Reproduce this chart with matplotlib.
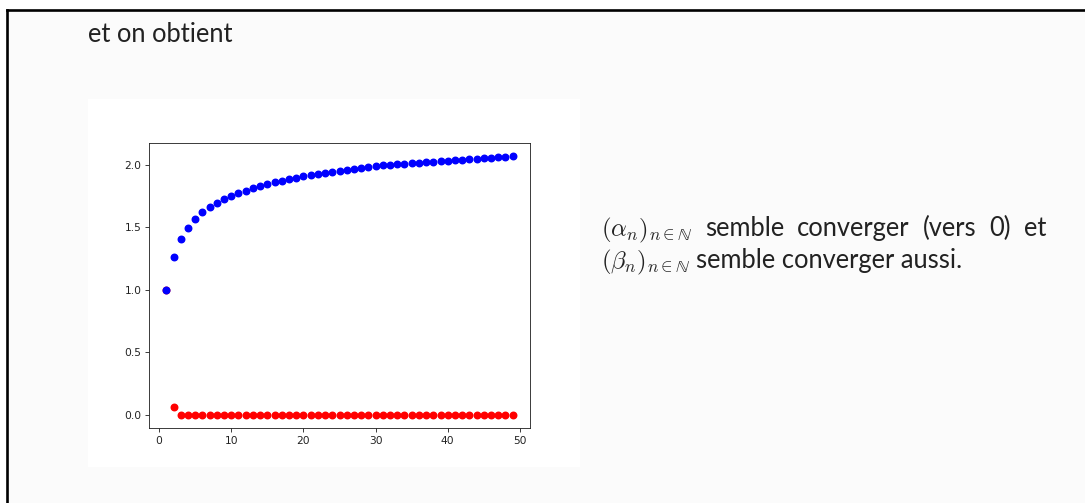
import matplotlib
matplotlib.use("Agg")
import matplotlib.pyplot as plt
from matplotlib.patches import Rectangle
from matplotlib.lines import Line2D

# values
n = list(range(1, 50))
alpha = [1.0, 0.065, 0.0, 0.0, 0.0, 0.0, 0.0, 0.0, 0.0, 0.0,
         0.0, 0.0, 0.0, 0.0, 0.0, 0.0, 0.0, 0.0, 0.0, 0.0,
         0.0, 0.0, 0.0, 0.0, 0.0, 0.0, 0.0, 0.0, 0.0, 0.0,
         0.0, 0.0, 0.0, 0.0, 0.0, 0.0, 0.0, 0.0, 0.0, 0.0,
         0.0, 0.0, 0.0, 0.0, 0.0, 0.0, 0.0, 0.0, 0.0]
beta = [1.000, 1.266, 1.408, 1.496, 1.565, 1.619, 1.659, 1.693, 1.723, 1.749,
        1.771, 1.792, 1.811, 1.827, 1.843, 1.859, 1.872, 1.883, 1.896, 1.907,
        1.917, 1.928, 1.936, 1.944, 1.952, 1.960, 1.968, 1.973, 1.981, 1.987,
        1.995, 2.000, 2.005, 2.008, 2.011, 2.015, 2.019, 2.024, 2.029, 2.032,
        2.037, 2.040, 2.045, 2.048, 2.053, 2.056, 2.061, 2.064, 2.069]

line1_words = [r'$(\alpha_n)_{n\in\mathbb{N}}$', 'semble', 'converger', '(vers', '0)', 'et']
line2_words = [r'$(\beta_n)_{n\in\mathbb{N}}$', 'semble converger aussi.']

W, H = 1085, 503
TEXT_FONT = "Lato"
TEXT_SIZE = 18.4
MATH_SIZE = 17.8
TEXT_COLOR = '#222222'

plt.rcParams['mathtext.fontset'] = 'cm'

fig = plt.figure(figsize=(W / 100, H / 100), dpi=100, facecolor='white')


def fx(px):
    return px / W


def fy(py):
    return 1 - py / H


# slide background and frame
fig.patches.append(Rectangle((fx(7), 0), 1 - fx(7), fy(10), transform=fig.transFigure,
                             facecolor='#fbfbfb', edgecolor='none', zorder=0))
fig.lines.append(Line2D([fx(7), 1], [fy(10), fy(10)], transform=fig.transFigure,
                        color='black', lw=1.9))
fig.lines.append(Line2D([fx(7), fx(7)], [0, fy(10)], transform=fig.transFigure,
                        color='black', lw=1.9))

# white image area of the embedded plot
fig.patches.append(Rectangle((fx(88), fy(467)), fx(580 - 88), (467 - 99) / H,
                             transform=fig.transFigure, facecolor='white',
                             edgecolor='none', zorder=1))

fig.text(fx(88), fy(42), "et on obtient", fontsize=TEXT_SIZE, family=TEXT_FONT,
         va='baseline', ha='left', color=TEXT_COLOR)


def word(x, y, s):
    size = MATH_SIZE if s.startswith('$') else TEXT_SIZE
    return fig.text(fx(x), fy(y), s, fontsize=size, family=TEXT_FONT,
                    va='baseline', ha='left', color=TEXT_COLOR)


renderer = fig.canvas.get_renderer()

# first line is justified between x=601 and x=1046
left, right = 601, 1046
texts = [word(left, 236, w) for w in line1_words]
widths = [t.get_window_extent(renderer).width for t in texts]
gap = (right - left - sum(widths)) / (len(texts) - 1)
x = left
for t, w in zip(texts, widths):
    t.set_x(fx(x))
    x += w + gap

# second line: normal spacing
t0 = word(left, 268, line2_words[0])
w0 = t0.get_window_extent(renderer).width
word(left + w0 + 6, 268, line2_words[1])

# the plot itself
ax = fig.add_axes([fx(149), fy(428), fx(530 - 149), (428 - 143) / H])
ax.set_zorder(2)
ax.plot(n, alpha, 'o', color='red', ms=4.7)
ax.plot(n, beta, 'o', color='blue', ms=4.7)
ax.set_xticks([0, 10, 20, 30, 40, 50])
ax.set_yticks([0.0, 0.5, 1.0, 1.5, 2.0])
ax.tick_params(labelsize=7.7, length=2.7, width=0.62, pad=2.7, colors='#222222')
for s in ax.spines.values():
    s.set_linewidth(0.62)
    s.set_color('#222222')

fig.savefig("out.png", dpi=100, facecolor='white')
